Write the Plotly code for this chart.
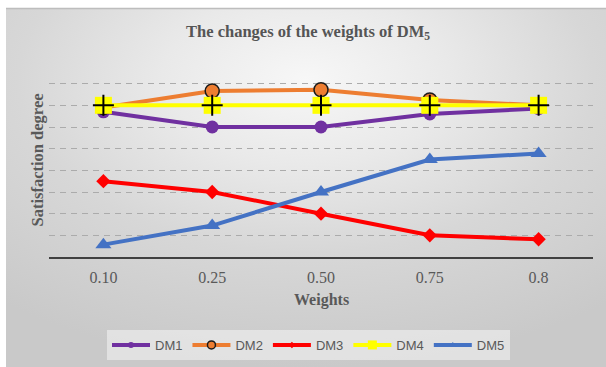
import base64
import plotly.graph_objects as go

categories = ["0.10", "0.25", "0.50", "0.75", "0.8"]
dm1 = [6.7, 6.0, 6.0, 6.6, 6.85]
dm2 = [6.9, 7.66, 7.72, 7.25, 7.0]
dm3 = [3.5, 3.0, 2.0, 1.0, 0.82]
dm4 = [7.0, 7.0, 7.0, 7.0, 7.0]
dm5 = [0.57, 1.45, 3.0, 4.5, 4.78]
series_names = ["DM1", "DM2", "DM3", "DM4", "DM5"]

W, H = 606, 367
L, R, T, B = 49, 13, 62, 110
pw, ph = W - L - R, H - T - B


def px_x(p):
    return (p - L) / pw


def px_y(p):
    return (H - B - p) / ph


svg = (
    '<svg xmlns="http://www.w3.org/2000/svg" width="600" height="359" preserveAspectRatio="none">'
    '<defs><radialGradient id="g" cx="0.5" cy="0.2" r="0.8">'
    '<stop offset="0" stop-color="#f7f7f7"/>'
    '<stop offset="0.3" stop-color="#e9e9e9"/>'
    '<stop offset="0.6" stop-color="#d7d7d7"/>'
    '<stop offset="1" stop-color="#c9c9c9"/>'
    '</radialGradient></defs>'
    '<rect width="600" height="359" fill="url(#g)"/></svg>'
)
bg_src = "data:image/svg+xml;base64," + base64.b64encode(svg.encode()).decode()

fig = go.Figure()

LW = 4
fig.add_trace(go.Scatter(x=categories, y=dm1, mode="lines+markers", name="DM1", showlegend=False,
                         line=dict(color="#7030A0", width=LW),
                         marker=dict(symbol="circle", size=13, color="#7030A0")))
fig.add_trace(go.Scatter(x=categories, y=dm2, mode="lines+markers", name="DM2", showlegend=False,
                         line=dict(color="#ED7D31", width=LW),
                         marker=dict(symbol="circle", size=14, color="#ED7D31",
                                     line=dict(color="#1a1a1a", width=1.5))))
fig.add_trace(go.Scatter(x=categories, y=dm3, mode="lines+markers", name="DM3", showlegend=False,
                         line=dict(color="#FF0000", width=LW),
                         marker=dict(symbol="diamond", size=11, color="#FF0000")))
fig.add_trace(go.Scatter(x=categories, y=dm4, mode="lines+markers", name="DM4", showlegend=False,
                         line=dict(color="#FFFF00", width=LW),
                         marker=dict(symbol="square", size=17, color="#FFFF00")))
fig.add_trace(go.Scatter(x=categories, y=dm4, mode="markers", name="DM4", showlegend=False,
                         hoverinfo="skip",
                         marker=dict(symbol="cross-thin", size=15,
                                     line=dict(color="#000000", width=2))))
fig.add_trace(go.Scatter(x=categories, y=dm5, mode="lines+markers", name="DM5", showlegend=False,
                         line=dict(color="#4472C4", width=LW),
                         marker=dict(symbol="triangle-up", size=14, color="#4472C4")))

leg_styles = [
    dict(line=dict(color="#7030A0", width=4), marker=dict(symbol="circle", size=6, color="#7030A0")),
    dict(line=dict(color="#ED7D31", width=4), marker=dict(symbol="circle", size=8, color="#ED7D31",
                                                           line=dict(color="#1a1a1a", width=1.5))),
    dict(line=dict(color="#FF0000", width=4), marker=dict(symbol="diamond", size=5, color="#FF0000")),
    dict(line=dict(color="#FFFF00", width=4), marker=dict(symbol="square", size=9, color="#FFFF00")),
    dict(line=dict(color="#4472C4", width=4), marker=dict(symbol="triangle-up", size=6, color="#4472C4")),
]
for nm, st in zip(series_names, leg_styles):
    fig.add_trace(go.Scatter(x=[None], y=[None], mode="lines+markers", name=nm, showlegend=True, **st))

fig.update_layout(
    width=W, height=H,
    margin=dict(l=L, r=R, t=T, b=B, autoexpand=False),
    paper_bgcolor="#ffffff",
    plot_bgcolor="rgba(0,0,0,0)",
    showlegend=True,
    legend=dict(orientation="h", x=px_x(308.5), xanchor="center", y=px_y(330), yanchor="top",
                bgcolor="rgba(255,255,255,0.45)", borderwidth=0,
                font=dict(family="Liberation Sans", size=13, color="#595959"),
                itemwidth=38, tracegroupgap=0),
    images=[dict(source=bg_src, xref="paper", yref="paper",
                 x=px_x(6), y=px_y(8), sizex=(W - 6) / pw, sizey=(H - 8) / ph,
                 xanchor="left", yanchor="top", sizing="stretch", layer="below")],
    shapes=[dict(type="line", xref="paper", yref="paper", x0=px_x(6), x1=px_x(W), y0=px_y(8.5), y1=px_y(8.5),
                 line=dict(color="#bdbdbd", width=1.5))],
    xaxis=dict(type="category", range=[-0.5, 4.5], showgrid=False, zeroline=False,
               showline=True, linecolor="#404040", linewidth=2, ticks="",
               tickfont=dict(family="Liberation Serif", size=16, color="#595959"),
               ticklabelstandoff=5),
    yaxis=dict(range=[0, 9], dtick=1, showticklabels=False, zeroline=False, showline=False,
               showgrid=True, gridcolor="#ababab", gridwidth=1.3, griddash="6px,5px"),
    annotations=[
        dict(text="The changes of the weights of DM<sub>5</sub>", xref="paper", yref="paper",
             x=px_x(308), y=px_y(32), showarrow=False, xanchor="center", yanchor="middle",
             font=dict(family="Liberation Serif", size=16.5, color="#555555", weight="bold")),
        dict(text="Weights", xref="paper", yref="paper", x=px_x(321), y=px_y(300), showarrow=False,
             xanchor="center", yanchor="middle",
             font=dict(family="Liberation Serif", size=16, color="#595959", weight="bold")),
        dict(text="Satisfaction degree", xref="paper", yref="paper", x=px_x(36.5), y=px_y(160),
             showarrow=False, textangle=-90, xanchor="center", yanchor="middle",
             font=dict(family="Liberation Serif", size=16.5, color="#595959", weight="bold")),
    ],
)

fig.write_html("out.html", config={"displayModeBar": False},
               post_script="document.body.style.margin='0px';")
